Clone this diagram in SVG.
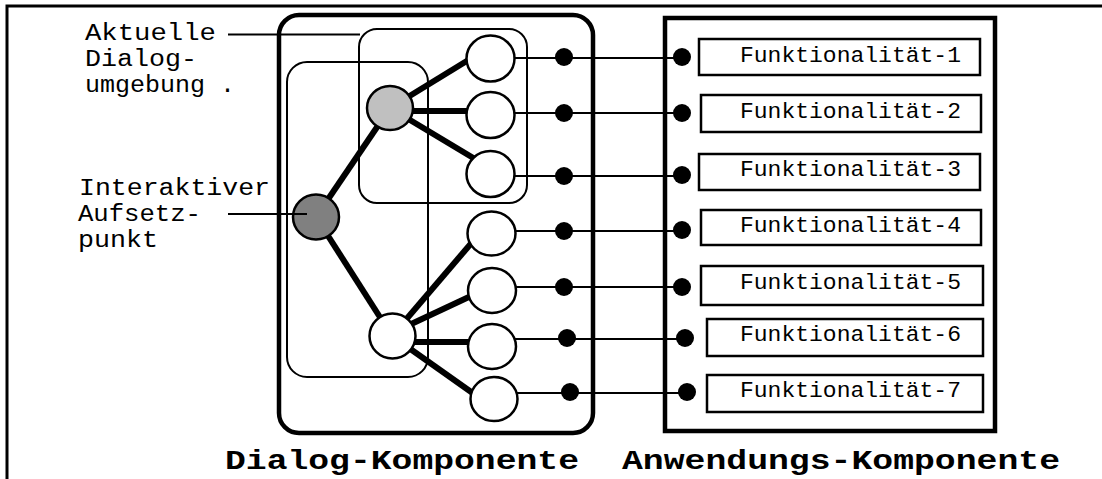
<svg xmlns="http://www.w3.org/2000/svg" width="1102" height="479" viewBox="0 0 1102 479">
<style>
  .thin { fill: none; stroke: #000; stroke-width: 2; }
  .thick { fill: none; stroke: #000; stroke-width: 4.5; }
  .edge { stroke: #000; stroke-width: 6; fill: none; }
  .conn { stroke: #000; stroke-width: 2; fill: none; }
  .dot { fill: #000; }
  .leaf { fill: #fff; stroke: #000; stroke-width: 2.5; }
  .fbox { fill: #fff; stroke: #000; stroke-width: 2.5; }
  .lbl { font-family: "Liberation Mono", "Courier New", monospace; font-size: 23px; fill: #000; }
  .ftxt { font-family: "Liberation Mono", "Courier New", monospace; font-size: 21.5px; fill: #000; }
  .title { font-family: "Liberation Mono", "Courier New", monospace; font-size: 27px; font-weight: bold; fill: #000; }
</style>
<rect width="1102" height="479" fill="#fff"/>
<path id="frame" d="M7,479 V6 H1102" fill="none" stroke="#000" stroke-width="3"/>

<g id="dialog-komponente">
  <rect class="thick" x="279" y="15" width="314" height="418" rx="20"/>
  <text class="title" x="225" y="469" textLength="354" lengthAdjust="spacingAndGlyphs">Dialog-Komponente</text>
</g>
<g id="aktuelle-dialogumgebung">
  <rect class="thin" x="359" y="29" width="168" height="174" rx="18"/>
</g>
<g id="linke-umgebung">
  <rect class="thin" x="287" y="62" width="141" height="315" rx="20"/>
</g>

<g id="anwendungs-komponente">
  <rect class="thick" x="665" y="18" width="330" height="413"/>
  <text class="title" x="622" y="469" textLength="438" lengthAdjust="spacingAndGlyphs">Anwendungs-Komponente</text>
</g>

<g id="connectors">
  <line class="edge" x1="316" y1="217" x2="390" y2="108"/>
  <line class="edge" x1="316" y1="217" x2="392" y2="336"/>
  <line class="edge" x1="390" y1="108" x2="470" y2="59"/>
  <line class="edge" x1="390" y1="111" x2="470" y2="111"/>
  <line class="edge" x1="390" y1="108" x2="475" y2="159"/>
  <line class="edge" x1="392" y1="336" x2="474" y2="240"/>
  <line class="edge" x1="392" y1="333" x2="471" y2="296"/>
  <line class="edge" x1="392" y1="342" x2="470" y2="342"/>
  <line class="edge" x1="392" y1="336" x2="474" y2="394"/>
  <line class="conn" x1="513" y1="58" x2="682" y2="58"/>
  <line class="conn" x1="513" y1="113" x2="682" y2="113"/>
  <line class="conn" x1="513" y1="176" x2="682" y2="176"/>
  <line class="conn" x1="514" y1="231" x2="682" y2="231"/>
  <line class="conn" x1="514" y1="287" x2="682" y2="287"/>
  <line class="conn" x1="514" y1="339" x2="685" y2="339"/>
  <line class="conn" x1="516" y1="393" x2="687" y2="393"/>
  <circle class="dot" cx="564" cy="57" r="9"/>
  <circle class="dot" cx="564" cy="113" r="9"/>
  <circle class="dot" cx="564" cy="176" r="9"/>
  <circle class="dot" cx="564" cy="231" r="9"/>
  <circle class="dot" cx="564" cy="287" r="9"/>
  <circle class="dot" cx="567" cy="338" r="9"/>
  <circle class="dot" cx="570" cy="392" r="9"/>
  <circle class="dot" cx="682" cy="57" r="9"/>
  <circle class="dot" cx="682" cy="113" r="9"/>
  <circle class="dot" cx="682" cy="175" r="9"/>
  <circle class="dot" cx="682" cy="230" r="9"/>
  <circle class="dot" cx="682" cy="287" r="9"/>
  <circle class="dot" cx="685" cy="338" r="9"/>
  <circle class="dot" cx="687" cy="392" r="9"/>
</g>

<g id="aufsetzpunkt"><ellipse class="leaf" cx="316" cy="217" rx="23" ry="22.5" style="fill:#808080"/></g>
<g id="dialogknoten-aktuell"><ellipse class="leaf" cx="390" cy="108" rx="23" ry="22" style="fill:#c0c0c0"/></g>
<g id="dialogknoten-unten"><ellipse class="leaf" cx="392.5" cy="336" rx="23" ry="22.5"/></g>
<g id="knoten-1"><ellipse class="leaf" cx="490.5" cy="58.5" rx="24" ry="23"/></g>
<g id="knoten-2"><ellipse class="leaf" cx="490.5" cy="115" rx="24" ry="23"/></g>
<g id="knoten-3"><ellipse class="leaf" cx="490.5" cy="174" rx="24" ry="23"/></g>
<g id="knoten-4"><ellipse class="leaf" cx="491.5" cy="233.5" rx="24" ry="22"/></g>
<g id="knoten-5"><ellipse class="leaf" cx="492" cy="290.5" rx="24" ry="22.5"/></g>
<g id="knoten-6"><ellipse class="leaf" cx="492" cy="346.5" rx="24" ry="22.5"/></g>
<g id="knoten-7"><ellipse class="leaf" cx="494" cy="399" rx="23.5" ry="22"/></g>

<g id="funktionalitaet-1"><rect class="fbox" x="699" y="39" width="281" height="36"/><text class="ftxt" x="740" y="62" textLength="221" lengthAdjust="spacingAndGlyphs">Funktionalität-1</text></g>
<g id="funktionalitaet-2"><rect class="fbox" x="701" y="95" width="280" height="37"/><text class="ftxt" x="740" y="118" textLength="221" lengthAdjust="spacingAndGlyphs">Funktionalität-2</text></g>
<g id="funktionalitaet-3"><rect class="fbox" x="699" y="154" width="281" height="36"/><text class="ftxt" x="740" y="176" textLength="221" lengthAdjust="spacingAndGlyphs">Funktionalität-3</text></g>
<g id="funktionalitaet-4"><rect class="fbox" x="701" y="210" width="280" height="35"/><text class="ftxt" x="740" y="232" textLength="221" lengthAdjust="spacingAndGlyphs">Funktionalität-4</text></g>
<g id="funktionalitaet-5"><rect class="fbox" x="701" y="266" width="282" height="39"/><text class="ftxt" x="740" y="289" textLength="221" lengthAdjust="spacingAndGlyphs">Funktionalität-5</text></g>
<g id="funktionalitaet-6"><rect class="fbox" x="707" y="319" width="276" height="37"/><text class="ftxt" x="740" y="341" textLength="221" lengthAdjust="spacingAndGlyphs">Funktionalität-6</text></g>
<g id="funktionalitaet-7"><rect class="fbox" x="707" y="375" width="276" height="37"/><text class="ftxt" x="740" y="397" textLength="221" lengthAdjust="spacingAndGlyphs">Funktionalität-7</text></g>

<g id="label-aktuelle">
  <line class="conn" x1="228" y1="34.5" x2="360" y2="34.5"/>
  <text class="lbl" x="85" y="40" textLength="131" lengthAdjust="spacingAndGlyphs">Aktuelle</text>
  <text class="lbl" x="85" y="66" textLength="112" lengthAdjust="spacingAndGlyphs">Dialog-</text>
  <text class="lbl" x="85" y="92" textLength="150" lengthAdjust="spacingAndGlyphs">umgebung .</text>
</g>
<g id="label-aufsetzpunkt">
  <line class="conn" x1="228" y1="214" x2="307" y2="214"/>
  <text class="lbl" x="79" y="195" textLength="191" lengthAdjust="spacingAndGlyphs">Interaktiver</text>
  <text class="lbl" x="78" y="221" textLength="123" lengthAdjust="spacingAndGlyphs">Aufsetz-</text>
  <text class="lbl" x="78" y="247" textLength="80" lengthAdjust="spacingAndGlyphs">punkt</text>
</g>
</svg>
